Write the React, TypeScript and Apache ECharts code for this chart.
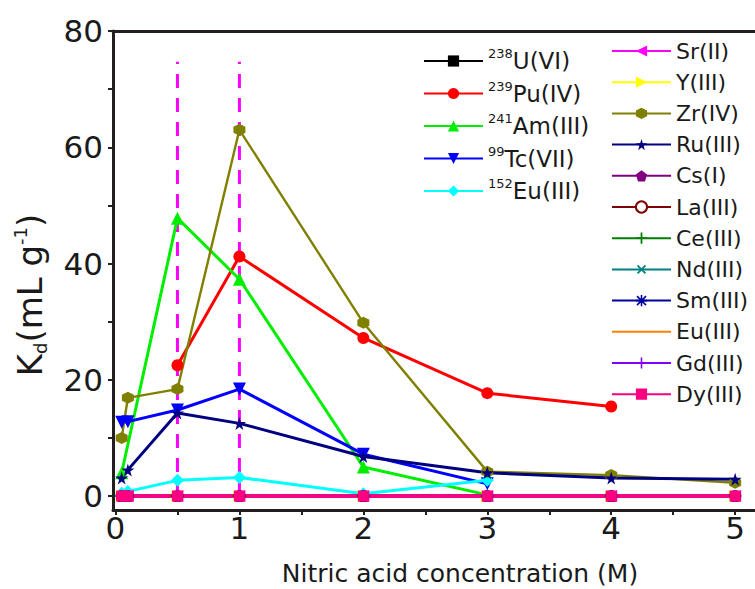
import { useEffect, useRef } from 'react';
import * as echarts from 'echarts';

// Nitric acid concentration (M)
const xValues = [0.05, 0.1, 0.5, 1, 2, 3, 4, 5];
const xLabelValues = [0, 1, 2, 3, 4, 5];
const xTickValues = [0, 0.5, 1, 1.5, 2, 2.5, 3, 3.5, 4, 4.5, 5];
const yLabelValues = [0, 20, 40, 60, 80];
const yTickValues = [0, 10, 20, 30, 40, 50, 60, 70, 80];
const guideLines = [0.5, 1];

// Kd values (mL/g), aligned with xValues (null = not measured)
const u238 = [0, 0, 0, 0, 0, 0, 0, 0];
const pu239 = [null, null, 22.5, 41.2, 27.2, 17.7, 15.4, null];
const am241 = [4.0, null, 47.8, 37.3, 5.0, 0.2, null, null];
const tc99 = [12.7, 12.8, 14.8, 18.4, 7.2, 2.1, null, null];
const eu152 = [0.5, 0.8, 2.7, 3.2, 0.4, 2.7, null, null];
const srII = [0, 0, 0, 0, 0, 0, 0, 0];
const yIII = [0, 0, 0, 0, 0, 0, 0, 0];
const zrIV = [10.0, 16.9, 18.4, 63.0, 29.8, 4.2, 3.6, 2.3];
const ruIII = [3.1, 4.5, 14.3, 12.5, 6.8, 4.0, 3.1, 2.9];
const csI = [0, 0, 0, 0, 0, 0, 0, 0];
const laIII = [0, 0, 0, 0, 0, 0, 0, 0];
const ceIII = [0, 0, 0, 0, 0, 0, 0, 0];
const ndIII = [0, 0, 0, 0, 0, 0, 0, 0];
const smIII = [0, 0, 0, 0, 0, 0, 0, 0];
const euIII = [0, 0, 0, 0, 0, 0, 0, 0];
const gdIII = [0, 0, 0, 0, 0, 0, 0, 0];
const dyIII = [0, 0, 0, 0, 0, 0, 0, 0];

const leftNames = ['238U(VI)', '239Pu(IV)', '241Am(III)', '99Tc(VII)', '152Eu(III)'];
const rightNames = ['Sr(II)', 'Y(III)', 'Zr(IV)', 'Ru(III)', 'Cs(I)', 'La(III)', 'Ce(III)', 'Nd(III)', 'Sm(III)', 'Eu(III)', 'Gd(III)', 'Dy(III)'];

const FONT = 'DejaVu Sans';
const AXIS = '#231f20';
const TXT = '#1a1a1a';

const HEX = 'path://M5,0 L10,2.5 L10,7.5 L5,10 L0,7.5 L0,2.5 Z';
const PENT = 'path://M5,0 L10,3.8 L8.1,10 L1.9,10 L0,3.8 Z';
const STAR = 'path://M50,0 L61,35 L98,35 L68,57 L79,91 L50,70 L21,91 L32,57 L2,35 L39,35 Z';
const PLUS = 'path://M4.2,0 L5.8,0 L5.8,4.2 L10,4.2 L10,5.8 L5.8,5.8 L5.8,10 L4.2,10 L4.2,5.8 L0,5.8 L0,4.2 L4.2,4.2 Z';
const ASTER = 'path://M4.3,0 L5.7,0 L5.7,10 L4.3,10 Z M0,4.3 L10,4.3 L10,5.7 L0,5.7 Z M1.5,0.5 L9.5,8.5 L8.5,9.5 L0.5,1.5 Z M8.5,0.5 L9.5,1.5 L1.5,9.5 L0.5,8.5 Z';
const VBAR = 'path://M0,0 L0.02,0 L0,0.02 Z M4.3,0 L5.7,0 L5.7,10 L4.3,10 Z M10,10 L9.98,10 L10,9.98 Z';

function pairs(vals: (number | null)[]) {
  const out: number[][] = [];
  vals.forEach((v, i) => {
    if (v !== null) out.push([xValues[i], v]);
  });
  return out;
}

function mk(name: string, color: string, vals: (number | null)[], symbol: string, size: number, rotate = 0, width = 3) {
  return {
    type: 'line',
    name,
    data: pairs(vals),
    symbol,
    symbolSize: size,
    symbolRotate: rotate,
    lineStyle: { color, width },
    itemStyle: { color },
    connectNulls: true,
    z: 3,
  };
}

export default function App() {
  const ref = useRef<HTMLDivElement>(null);
  useEffect(() => {
    if (!ref.current) return;
    const chart = echarts.init(ref.current, null, { renderer: 'svg' });
    const guideSeries = guideLines.map((gx) => ({
      type: 'line',
      name: 'guide' + gx,
      data: [[gx, 0], [gx, 74.7]],
      symbol: 'none',
      silent: true,
      lineStyle: { color: '#FF00FF', width: 3, type: [14, 10] },
      z: 2,
    }));
    const series = [
      ...guideSeries,
      mk('238U(VI)', '#000000', u238, 'rect', 10),
      mk('239Pu(IV)', '#FF0000', pu239, 'circle', 12),
      mk('241Am(III)', '#00EE00', am241, 'triangle', 13),
      mk('99Tc(VII)', '#0000FF', tc99, 'triangle', 13, 180),
      mk('152Eu(III)', '#00FFFF', eu152, 'diamond', 13),
      mk('Sr(II)', '#FF00FF', srII, 'triangle', 12, 90),
      mk('Y(III)', '#FFFF00', yIII, 'triangle', 12, -90),
      mk('Zr(IV)', '#808000', zrIV, HEX, 12, 0, 2.4),
      mk('Ru(III)', '#000080', ruIII, STAR, 13),
      mk('Cs(I)', '#800080', csI, PENT, 12),
      mk('La(III)', '#800000', laIII, 'emptyCircle', 10),
      mk('Ce(III)', '#008000', ceIII, PLUS, 12),
      mk('Nd(III)', '#008080', ndIII, PLUS, 12, 45),
      mk('Sm(III)', '#0000A0', smIII, ASTER, 12),
      mk('Eu(III)', '#FF8000', euIII, 'none', 10),
      mk('Gd(III)', '#8000FF', gdIII, VBAR, 12),
      mk('Dy(III)', '#FF0080', dyIII, 'rect', 11, 0, 3.4),
    ];
    const axisLineStyle = { color: AXIS, width: 3 };
    const option = {
      animation: false,
      backgroundColor: '#ffffff',
      grid: { left: 113, top: 31, right: 0, bottom: 79, containLabel: false },
      xAxis: [
        {
          type: 'value',
          min: -0.02,
          max: 5.16,
          position: 'bottom',
          axisLine: { show: true, onZero: false, lineStyle: axisLineStyle },
          axisTick: { show: true, inside: false, length: 5, lineStyle: { color: AXIS, width: 2 }, customValues: xTickValues },
          axisLabel: { show: true, customValues: xLabelValues, margin: 2, fontSize: 31, fontFamily: FONT, color: TXT },
          splitLine: { show: false },
          minorTick: { show: false },
        },
        {
          type: 'value',
          min: -0.02,
          max: 5.16,
          position: 'top',
          axisLine: { show: true, onZero: false, lineStyle: axisLineStyle },
          axisTick: { show: false },
          axisLabel: { show: false },
          splitLine: { show: false },
        },
      ],
      yAxis: {
        type: 'value',
        min: -2.4,
        max: 80,
        axisLine: { show: true, onZero: false, lineStyle: axisLineStyle },
        axisTick: { show: true, inside: false, length: 5, lineStyle: { color: AXIS, width: 2 }, customValues: yTickValues },
        axisLabel: { show: true, customValues: yLabelValues, margin: 10, fontSize: 31, fontFamily: FONT, color: TXT },
        splitLine: { show: false },
      },
      legend: [
        {
          data: leftNames,
          orient: 'vertical',
          left: 423,
          top: 47,
          padding: 0,
          itemWidth: 59,
          itemHeight: 14,
          itemGap: 7,
          selectedMode: false,
          formatter: (n: string) => n.replace(/^(\d+)(.*)$/, '{sup|$1}{n|$2}'),
          textStyle: {
            color: TXT,
            fontFamily: FONT,
            rich: {
              sup: { fontSize: 13, lineHeight: 14, verticalAlign: 'top', fontFamily: FONT, color: TXT },
              n: { fontSize: 23, lineHeight: 28, fontFamily: FONT, color: TXT },
            },
          },
        },
        {
          data: rightNames.map((n) => (n === 'Eu(III)' ? { name: n, itemStyle: { opacity: 0 } } : n)),
          orient: 'vertical',
          left: 611,
          top: 40,
          padding: 0,
          itemWidth: 59,
          itemHeight: 14,
          itemGap: 9.2,
          selectedMode: false,
          textStyle: { color: TXT, fontFamily: FONT, fontSize: 22, lineHeight: 22 },
        },
      ],
      graphic: [
        {
          type: 'text',
          x: 460,
          y: 573,
          style: {
            text: 'Nitric acid concentration (M)',
            fontFamily: FONT,
            fontSize: 25,
            fill: TXT,
            align: 'center',
            verticalAlign: 'middle',
          },
        },
        {
          type: 'text',
          x: 30,
          y: 295,
          rotation: Math.PI / 2,
          style: {
            text: '{n|K}{sub|d}{n|(mL g}{sup|-1}{n|)}',
            align: 'center',
            verticalAlign: 'middle',
            fill: TXT,
            fontFamily: FONT,
            rich: {
              n: { fontSize: 34, lineHeight: 38, fontFamily: FONT, fill: TXT },
              sub: { fontSize: 18, lineHeight: 18, verticalAlign: 'bottom', fontFamily: FONT, fill: TXT },
              sup: { fontSize: 18, lineHeight: 18, verticalAlign: 'top', fontFamily: FONT, fill: TXT },
            },
          },
        },
      ],
      series,
    };
    chart.setOption(option as any);
    return () => chart.dispose();
  }, []);
  return (
    <div
      ref={ref}
      style={{ position: 'fixed', left: 0, top: 0, width: 755, height: 589, background: '#fff' }}
    />
  );
}
